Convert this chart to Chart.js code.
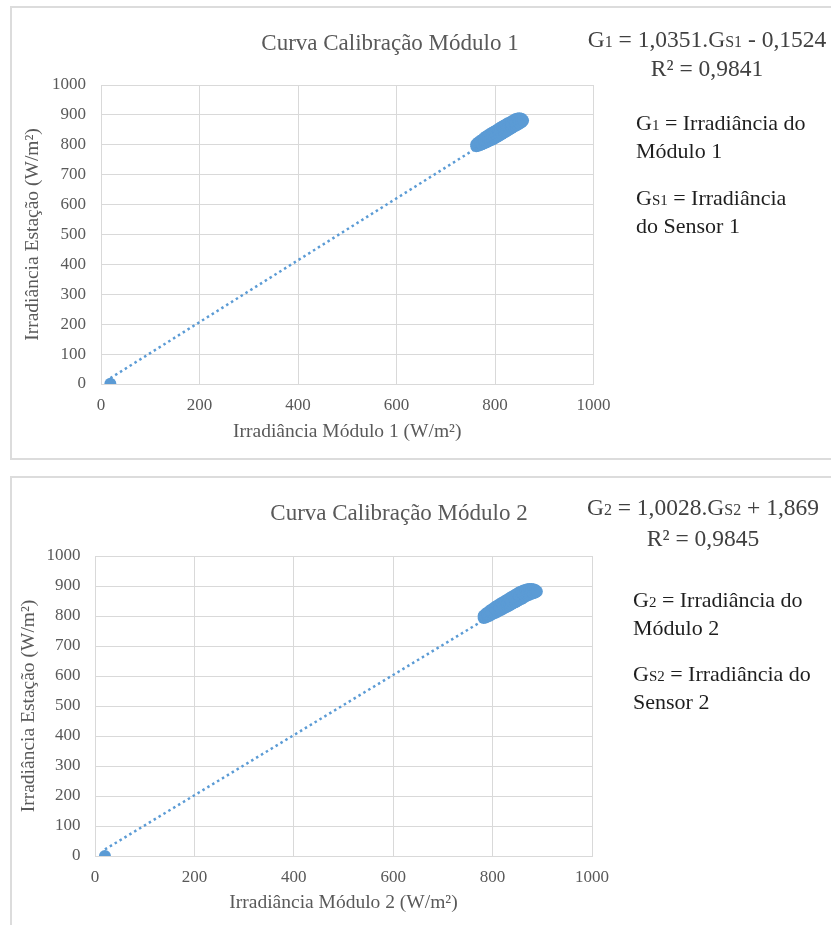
<!DOCTYPE html>
<html>
<head>
<meta charset="utf-8">
<script src="https://cdn.jsdelivr.net/npm/chart.js@4.4.0/dist/chart.umd.min.js"></script>
<style>
body{margin:0;background:#fff;width:831px;height:925px;position:relative;overflow:hidden;font-family:"Liberation Serif",serif;}
.panel{position:absolute;left:10px;width:840px;border:2px solid #dcdcdc;}
#p1{top:6px;height:450px;}
#p2{top:476px;height:470px;}
canvas{position:absolute;}
.eq{position:absolute;width:300px;color:#404040;font-size:23.5px;line-height:27px;text-align:center;white-space:nowrap;}
.note{position:absolute;color:#1e1e1e;font-size:22px;line-height:25px;white-space:nowrap;}
.sm{font-size:0.68em;}
</style>
</head>
<body>
<div class="panel" id="p1"></div>
<div class="panel" id="p2"></div>
<canvas id="chart1" width="760" height="451" style="left:10px;top:7px"></canvas>
<canvas id="chart2" width="778" height="447" style="left:10px;top:477px"></canvas>

<div class="eq" style="left:557px;top:26px">G<span class="sm">1</span> = 1,0351.G<span class="sm">S1</span> - 0,1524<br>R² = 0,9841</div>
<div class="note" style="left:636px;top:110px">G<span class="sm">1</span> = Irradiância do<br>Módulo 1</div>
<div class="note" style="left:636px;top:185px">G<span class="sm">S1</span> = Irradiância<br>do Sensor 1</div>

<div class="eq" style="left:553px;top:493px;line-height:28px">G<span class="sm">2</span> = 1,0028.G<span class="sm">S2</span> + 1,869<br>R² = 0,9845</div>
<div class="note" style="left:633px;top:587px">G<span class="sm">2</span> = Irradiância do<br>Módulo 2</div>
<div class="note" style="left:633px;top:661px">G<span class="sm">S2</span> = Irradiância do<br>Sensor 2</div>

<script>
// module 1 readings (x = module, y = station)
const m1X = [19,
  762, 762, 766, 766, 770, 770, 770, 774, 774, 778, 778, 778, 782, 782, 786, 786, 786, 790, 790,
  794, 794, 794, 798, 798, 802, 802, 802, 806, 806, 810, 810, 810, 814, 814, 818, 818, 818, 822, 822,
  826, 826, 826, 830, 830, 834, 834, 834, 838, 838, 842, 842, 842, 846, 846, 850, 850, 850, 854, 854, 857];
const m1Y = [1,
  802, 795, 808, 797, 813, 799, 806, 817, 802, 823, 805, 813, 828, 808, 832, 811, 820, 836, 814,
  840, 817, 826, 844, 820, 848, 824, 834, 852, 828, 856, 832, 842, 860, 836, 864, 840, 850, 868, 844,
  872, 848, 858, 875, 852, 879, 856, 866, 882, 860, 886, 864, 874, 888, 867, 889, 871, 880, 887, 875, 881];

// module 2 readings
const m2X = [20,
  782, 782, 786, 786, 790, 790, 790, 794, 794, 798, 798, 798, 802, 802, 806, 806, 806, 810, 810,
  814, 814, 814, 818, 818, 822, 822, 822, 826, 826, 830, 830, 830, 834, 834, 838, 838, 838, 842, 842,
  846, 846, 846, 850, 850, 854, 854, 854, 858, 858, 862, 862, 862, 866, 866, 870, 870, 870, 874, 874,
  878, 878, 878, 882, 882, 886, 886, 889];
const m2Y = [0,
  801, 793, 807, 795, 812, 798, 805, 817, 801, 822, 805, 812, 826, 808, 831, 811, 820, 835, 814,
  839, 818, 827, 843, 821, 847, 825, 834, 851, 828, 855, 832, 842, 859, 835, 863, 839, 850, 867, 843,
  871, 846, 857, 875, 850, 879, 854, 865, 882, 857, 885, 861, 872, 887, 865, 889, 868, 878, 890, 871,
  890, 874, 882, 889, 876, 887, 878, 882];

// trendline [slope, intercept] as printed on the chart
const trend1 = [1.0351, -0.1524];
const trend2 = [1.0028, 1.869];

const titles = ["Curva Calibração Módulo 1", "Curva Calibração Módulo 2"];
const xTitles = ["Irradiância Módulo 1 (W/m²)", "Irradiância Módulo 2 (W/m²)"];
const yTitle = "Irradiância Estação (W/m²)";
const axisMax = 1000;
const xStep = 200;
const yStep = 100;

const BLUE = "#5b9bd5";
const GREY = "#595959";
const SERIF = "'Liberation Serif', 'Times New Roman', serif";

function toPoints(xs, ys) {
    return xs.map((x, i) => ({ x, y: ys[i] }));
}

function trendPoints(xs, coef) {
    const lo = Math.min(...xs), hi = Math.max(...xs);
    return [lo, hi].map(x => ({ x, y: coef[0] * x + coef[1] }));
}

function makeChart(id, pts, trend, title, xTitle, lay) {
    return new Chart(document.getElementById(id), {
        type: 'scatter',
        data: {
            datasets: [
                {
                    data: trend, showLine: true, pointRadius: 0,
                    borderColor: BLUE, borderWidth: 2.5, borderDash: [2.5, 3.2],
                    order: 0
                },
                {
                    data: pts, pointRadius: 6, borderWidth: 0,
                    backgroundColor: BLUE, borderColor: BLUE,
                    order: 1
                }
            ]
        },
        options: {
            responsive: false,
            animation: false,
            devicePixelRatio: 1,
            layout: { padding: 0 },
            plugins: {
                legend: { display: false },
                tooltip: { enabled: false },
                title: {
                    display: true, text: title, color: GREY,
                    font: { family: SERIF, size: 23, weight: 'normal' },
                    padding: { top: 23, bottom: lay.titleBottom }
                }
            },
            scales: {
                x: {
                    type: 'linear', min: 0, max: axisMax,
                    ticks: {
                        stepSize: xStep, padding: 11.5, color: GREY,
                        font: { family: SERIF, size: 17 },
                        callback: v => String(v)
                    },
                    grid: { color: '#d9d9d9', drawTicks: false },
                    border: { color: '#d9d9d9' },
                    title: {
                        display: true, text: xTitle, color: GREY,
                        font: { family: SERIF, size: 19.5 },
                        padding: { top: 0, bottom: lay.xTitlePad }
                    },
                    afterFit: s => { s.height = lay.xHeight; }
                },
                y: {
                    type: 'linear', min: 0, max: axisMax,
                    ticks: {
                        stepSize: yStep, padding: lay.yTickPad, color: GREY,
                        font: { family: SERIF, size: 17 },
                        callback: v => String(v)
                    },
                    grid: { color: '#d9d9d9', drawTicks: false },
                    border: { color: '#d9d9d9' },
                    title: {
                        display: true, text: yTitle, color: GREY,
                        font: { family: SERIF, size: 19.5 },
                        padding: { top: lay.yTitlePad, bottom: 0 }
                    },
                    afterFit: s => { s.width = lay.yWidth; }
                },
                // empty right axis, only reserves room for the side notes
                side: {
                    type: 'linear', axis: 'y', position: 'right',
                    ticks: { display: false }, grid: { display: false }, border: { display: false },
                    afterFit: s => { s.width = lay.rightWidth; }
                }
            }
        }
    });
}

makeChart("chart1", toPoints(m1X, m1Y), trendPoints(m1X, trend1), titles[0], xTitles[0],
    { titleBottom: 27.4, xHeight: 74, xTitlePad: 14.3, yWidth: 91, yTickPad: 15, yTitlePad: 11.3, rightWidth: 176.5 });

makeChart("chart2", toPoints(m2X, m2Y), trendPoints(m2X, trend2), titles[1], xTitles[1],
    { titleBottom: 28.4, xHeight: 68, xTitlePad: 9.3, yWidth: 85, yTickPad: 14.5, yTitlePad: 7.3, rightWidth: 196 });
</script>
</body>
</html>
